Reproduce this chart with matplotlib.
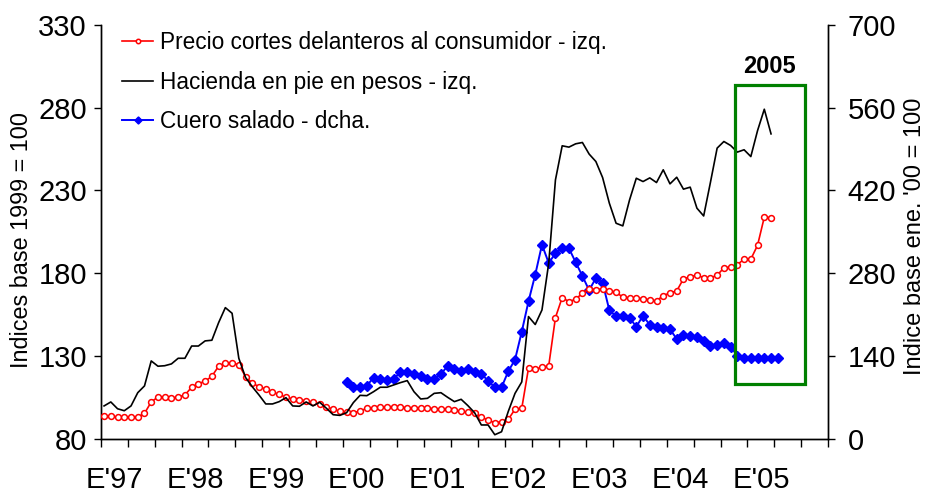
import numpy as np
import matplotlib
matplotlib.use("Agg")
import matplotlib.pyplot as plt
from matplotlib.patches import Rectangle

plt.rcParams['font.family'] = ['Liberation Sans', 'DejaVu Sans']

# ---- data ----
year_labels = ["E'97", "E'98", "E'99", "E'00", "E'01", "E'02", "E'03", "E'04", "E'05"]
n_months = 108  # Jan 1997 .. Dec 2005

precio_cortes = [
    93.7, 93.7, 93.1, 93.1, 93.1, 93.1, 95.3, 102.2, 105.2, 105.2, 104.6, 105.2,
    106.4, 111.1, 113.3, 114.7, 117.7, 123.8, 125.6, 125.6, 124.8, 117.5, 113.5, 111.5,
    109.9, 108.0, 106.8, 105.0, 104.0, 103.4, 103.0, 102.0, 101.0, 99.2, 97.8, 96.6,
    96.1, 95.7, 96.7, 98.4, 98.7, 99.0, 99.2, 99.4, 99.4, 98.6, 98.8, 98.6,
    98.4, 98.1, 98.0, 98.0, 97.3, 96.6, 96.0, 95.4, 93.3, 91.1, 89.7, 90.3,
    91.7, 97.8, 98.4, 122.6, 122.0, 123.2, 124.0, 153.2, 165.3, 162.8, 164.3, 167.9,
    170.7, 169.9, 170.7, 169.5, 168.5, 165.5, 165.3, 164.9, 164.7, 163.9, 163.3, 166.5,
    168.1, 169.3, 176.6, 177.8, 179.0, 177.2, 177.2, 178.8, 183.2, 183.8, 185.2, 188.5,
    188.5, 196.9, 213.9, 213.6,
]

hacienda = [
    99.8, 102.2, 98.1, 96.9, 99.8, 107.8, 111.9, 127.0, 123.8, 124.1, 125.2, 128.6,
    128.6, 136.0, 136.0, 139.1, 139.5, 150.1, 159.2, 155.8, 128.6, 117.0, 111.4, 106.4,
    101.0, 101.0, 102.4, 104.8, 99.8, 99.6, 102.2, 99.8, 102.0, 98.4, 94.5, 94.1,
    95.7, 101.8, 106.2, 106.0, 108.4, 111.1, 111.1, 112.5, 113.9, 115.1, 108.4, 104.0,
    104.4, 107.4, 107.8, 105.0, 102.4, 103.8, 100.0, 95.7, 88.3, 88.3, 82.4, 84.2,
    96.5, 107.4, 114.3, 153.8, 149.0, 157.8, 186.0, 236.4, 257.0, 256.2, 258.2, 259.0,
    252.0, 247.5, 237.8, 222.3, 210.2, 208.6, 224.3, 237.4, 235.4, 237.6, 234.8, 242.5,
    234.0, 238.0, 230.8, 232.0, 219.3, 214.6, 234.8, 255.6, 259.6, 257.2, 253.2, 254.6,
    250.5, 266.2, 279.1, 264.2,
]

cuero_start = 36  # Jan 2000
cuero = [
    95.4, 88.0, 87.5, 89.7, 103.2, 100.5, 99.8, 101.5, 112.6, 112.4, 109.0, 106.1,
    101.5, 101.5, 109.5, 123.0, 118.5, 115.0, 117.9, 112.4, 110.3, 97.6, 87.0, 87.0,
    114.0, 133.8, 181.0, 232.5, 277.5, 328.3, 297.3, 313.7, 322.2, 322.2, 298.5, 275.3,
    251.1, 271.9, 264.0, 217.3, 207.1, 207.1, 204.7, 189.5, 208.1, 192.6, 189.2, 187.0,
    185.1, 168.9, 174.9, 173.3, 172.1, 164.8, 156.9, 158.5, 161.9, 155.7, 140.4, 137.1,
    136.5, 136.0, 136.0, 136.0, 136.0,
]

labels = ["Precio cortes delanteros al consumidor - izq.",
          "Hacienda en pie en pesos - izq.",
          "Cuero salado - dcha."]

# ---- figure ----
W, H = 930, 496
fig = plt.figure(figsize=(W / 100, H / 100), dpi=100)
L, R, T, B = 100.7, 828.3, 25.0, 438.7
ax = fig.add_axes([L / W, 1 - B / H, (R - L) / W, (B - T) / H])
ax2 = ax.twinx()

x_red = np.arange(len(precio_cortes))
x_blk = np.arange(len(hacienda))
x_blu = cuero_start + np.arange(len(cuero))

l1, = ax.plot(x_red, precio_cortes, color='#FF0000', lw=1.2, marker='o', ms=4.2,
              mfc='white', mec='#FF0000', mew=1.1, zorder=3)
l2, = ax.plot(x_blk, hacienda, color='black', lw=1.2, zorder=3)
l3, = ax2.plot(x_blu, cuero, color='#0000FF', lw=1.4, marker='D', ms=4.8,
               mfc='#0000FF', mec='#0000FF', zorder=3)

ax.set_xlim(-0.5, n_months - 0.5)
ax.set_ylim(80, 330)
ax2.set_ylim(0, 700)
ax.set_yticks(np.arange(80, 331, 50))
ax2.set_yticks(np.arange(0, 701, 140))

# year labels centred in the first 4-month tick interval of each year
ax.set_xticks(np.arange(0, n_months, 12) + 1.5)
ax.set_xticklabels(year_labels)
ax.set_xticks(np.arange(-0.5, n_months, 4), minor=True)
ax.tick_params(axis='x', which='major', length=0, pad=20, labelsize=21)
ax.tick_params(axis='x', which='minor', length=6, width=1, direction='out')
ax.tick_params(axis='y', which='major', length=5, width=1, direction='out', pad=5, labelsize=21)
ax2.tick_params(axis='y', which='major', length=5, width=1, direction='out', pad=9, labelsize=21)
ax2.tick_params(axis='x', which='both', length=0)

for a in (ax, ax2):
    a.spines['top'].set_visible(False)
    for s in ('left', 'right', 'bottom'):
        a.spines[s].set_linewidth(1.0)
ax.set_zorder(ax2.get_zorder() + 1)
ax.patch.set_visible(False)

fig.text(22 / W, 1 - 240 / H, "Indices base 1999 = 100", rotation=90,
         ha='center', va='center', fontsize=16.8)
fig.text(915 / W, 1 - 236 / H, "Indice base ene. '00 = 100", rotation=90,
         ha='center', va='center', fontsize=17)

# 2005 highlight box
box = Rectangle((93.6, 113.1), 104.07 - 93.6, 293.8 - 113.1, fill=False,
                edgecolor='#008000', lw=2.3, clip_on=False, zorder=5)
ax.add_patch(box)
ax.text(98.8, 304.7, "2005", ha='center', va='center', fontsize=17,
        fontweight='bold')

leg = ax.legend([l1, l2, l3], labels, loc='upper left',
                bbox_to_anchor=(0.029, 0.985), frameon=False, fontsize=16.3,
                borderpad=0, borderaxespad=0, handlelength=1.4,
                handletextpad=0.3, labelspacing=0.73, markerscale=0.75)

fig.savefig("out.png", dpi=100)
